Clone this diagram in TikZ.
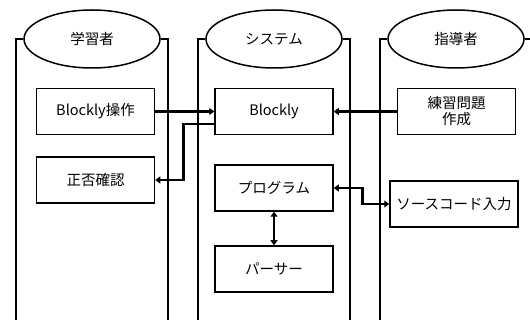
\documentclass[tikz,border=0pt]{standalone}
\usepackage{fontspec}
\setmainfont{Noto Sans CJK JP}
\usepackage{tikz}
\usetikzlibrary{arrows.meta,shapes.geometric}

\begin{document}
\begin{tikzpicture}
	[x=1pt,y=-1pt,
	font=\fontsize{14.5}{16}\selectfont,
	actor/.style={draw,ellipse,line width=1.5pt,minimum width=136pt,minimum height=58pt,inner sep=0pt},
	lane/.style={line width=1.8pt},
	box/.style={draw,rectangle,line width=1.5pt,minimum width=118pt,minimum height=46pt,align=center},
	flow/.style={line width=2.6pt,-{Triangle[length=5pt,width=7pt]}},
	flows/.style={line width=2.6pt,{Triangle[length=5pt,width=7pt]}-{Triangle[length=5pt,width=7pt]}}]
	\useasboundingbox (0,0) rectangle (530,320);
	\node[actor] (learner) at (92,39) {学習者};
	\node[actor] (system) at (274,39) {システム};
	\node[actor] (teacher) at (456,39) {指導者};
	\draw[lane] (learner.west) -| (16,322);
	\draw[lane] (learner.east) -| (168,322);
	\draw[lane] (system.west) -| (198,322);
	\draw[lane] (system.east) -| (350,322);
	\draw[lane] (teacher.west) -| (380,322);
	\draw[lane] (teacher.east) -| (532,322);
	\node[box] (op) at (95.5,111.5) {Blockly操作};
	\node[box] (check) at (95.5,180) {正否確認};
	\node[box] (blockly) at (274,111.5) {Blockly};
	\node[box] (program) at (274,188) {プログラム};
	\node[box] (parser) at (274,269) {パーサー};
	\node[box] (exercise) at (456.5,111.5) {練習問題\\作成};
	\node[box,minimum width=128pt] (source) at (454,204) {ソースコード入力};
	\draw[flow] (op) -- (blockly);
	\draw[flow] (exercise) -- (blockly);
	\draw[flow] ([yshift=-12.5pt]blockly.west) -- ++(-31,0) |- (check.east);
	\draw[flows] (program.east) -- ++(29,0) |- (source.west);
	\draw[flows] (program) -- (parser);
\end{tikzpicture}
\end{document}
